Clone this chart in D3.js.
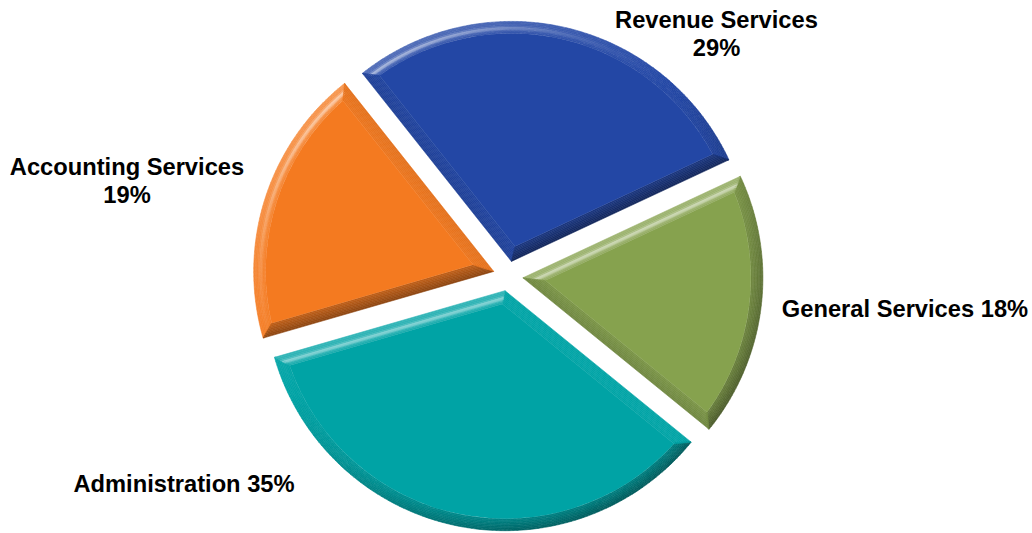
<!DOCTYPE html>
<html>
<head>
<meta charset="utf-8">
<script src="https://cdn.jsdelivr.net/npm/d3@7"></script>
<style>
  html, body { margin: 0; padding: 0; background: #fff; }
  svg { display: block; }
</style>
</head>
<body>
<svg id="chart" width="1032" height="533"></svg>
<script>
// Budget share by division
const categories = ["Revenue Services", "General Services", "Administration", "Accounting Services"];
const shares = [29, 18, 35, 19];
// whether the percentage sits on its own line under the name
const labelBreak = [true, false, false, true];
const sliceColors = ["#2347a5", "#86a24e", "#00a3a5", "#f47a20"];
// label anchor (first baseline, centred) relative to the pie centre
const labelOffsets = [[208.5, -248], [397, 40.7], [-324, 215.7], [-381, -101]];

const width = 1032, height = 533;
const cx = 508, cy = 276;       // pie centre
const R = 240;                  // outer radius
const explode = 15;             // slice pull-out distance
const bevelW = 12;              // chisel width
const bands = 8;                // profile steps across the chisel
const startDeg = -38.4;
const light = [-0.6, -0.8];     // light comes from the upper left

const svg = d3.select("#chart");
svg.append("rect").attr("width", width).attr("height", height).attr("fill", "#fff");

const pie = d3.pie().sort(null).value(d => d)
  .startAngle(startDeg * Math.PI / 180)
  .endAngle(startDeg * Math.PI / 180 + 2 * Math.PI);
const arcs = pie(shares);

const polar = (r, a) => [r * Math.sin(a), -r * Math.cos(a)];

function facetColor(base, phi, u) {
  const d = Math.sin(phi) * light[0] - Math.cos(phi) * light[1];
  const slope = 1 - 0.5 * u;
  const b = slope * (d - 0.2);
  let c = b > 0
    ? d3.interpolateRgb(base, "#ffffff")(b * 0.28)
    : d3.interpolateRgb(base, "#000000")(-b * 0.38);
  const hl = Math.pow(Math.max(0, d), 3) * Math.exp(-Math.pow((u - 0.6) / 0.16, 2));
  if (hl > 0.01) c = d3.interpolateRgb(c, "#ffffff")(hl * 0.55);
  return c;
}

const ringArc = d3.arc();

arcs.forEach((a, i) => {
  const a0 = a.startAngle, a1 = a.endAngle;
  const half = (a1 - a0) / 2, bis = (a0 + a1) / 2;
  const [ox, oy] = polar(explode, bis);
  const g = svg.append("g").attr("transform", `translate(${cx + ox},${cy + oy})`);
  const base = sliceColors[i];

  // inset outline at distance t from the slice border
  const apex = t => polar(t / Math.sin(half), bis);
  const rad = t => R - t;
  const dlt = t => Math.asin(t / (R - t));
  const c0 = t => polar(rad(t), a0 + dlt(t));
  const c1 = t => polar(rad(t), a1 - dlt(t));

  for (let k = 0; k < bands; k++) {
    const t1 = bevelW * k / bands, t2 = bevelW * (k + 1) / bands;
    const u = (k + 0.5) / bands;
    // curved rim, in small steps so the shading follows the normal
    const s0 = a0 + dlt(t1), s1 = a1 - dlt(t1);
    const steps = Math.max(2, Math.ceil((s1 - s0) / (Math.PI / 180)));
    for (let j = 0; j < steps; j++) {
      const e0 = s0 + (s1 - s0) * j / steps, e1 = s0 + (s1 - s0) * (j + 1) / steps;
      const col = facetColor(base, (e0 + e1) / 2, u);
      g.append("path")
        .attr("d", ringArc({ innerRadius: rad(t2), outerRadius: rad(t1), startAngle: e0, endAngle: e1 }))
        .attr("fill", col).attr("stroke", col).attr("stroke-width", 0.6);
    }
    // straight sides
    [[c0, a0 - Math.PI / 2], [c1, a1 + Math.PI / 2]].forEach(([cf, phi]) => {
      const col = facetColor(base, phi, u);
      const pts = [apex(t1), cf(t1), cf(t2), apex(t2)];
      g.append("path")
        .attr("d", d3.line()(pts) + "Z")
        .attr("fill", col).attr("stroke", col).attr("stroke-width", 0.6);
    });
  }

  // flat top of the slice
  const p = d3.path();
  const ap = apex(bevelW), q0 = c0(bevelW);
  p.moveTo(ap[0], ap[1]);
  p.lineTo(q0[0], q0[1]);
  p.arc(0, 0, rad(bevelW), a0 + dlt(bevelW) - Math.PI / 2, a1 - dlt(bevelW) - Math.PI / 2, false);
  p.closePath();
  g.append("path").attr("d", p.toString()).attr("fill", base);
});

// labels
const labels = svg.append("g")
  .attr("font-family", "'Liberation Sans', Arial, Helvetica, sans-serif")
  .attr("font-weight", "bold")
  .attr("font-size", 23.7)
  .attr("fill", "#000")
  .attr("text-anchor", "middle");

categories.forEach((name, i) => {
  const [dx, dy] = labelOffsets[i];
  const lines = labelBreak[i] ? [name, shares[i] + "%"] : [name + " " + shares[i] + "%"];
  const txt = labels.append("text").attr("x", cx + dx).attr("y", cy + dy);
  lines.forEach((ln, k) => {
    txt.append("tspan").attr("x", cx + dx).attr("dy", k === 0 ? 0 : 28).text(ln);
  });
});
</script>
</body>
</html>
